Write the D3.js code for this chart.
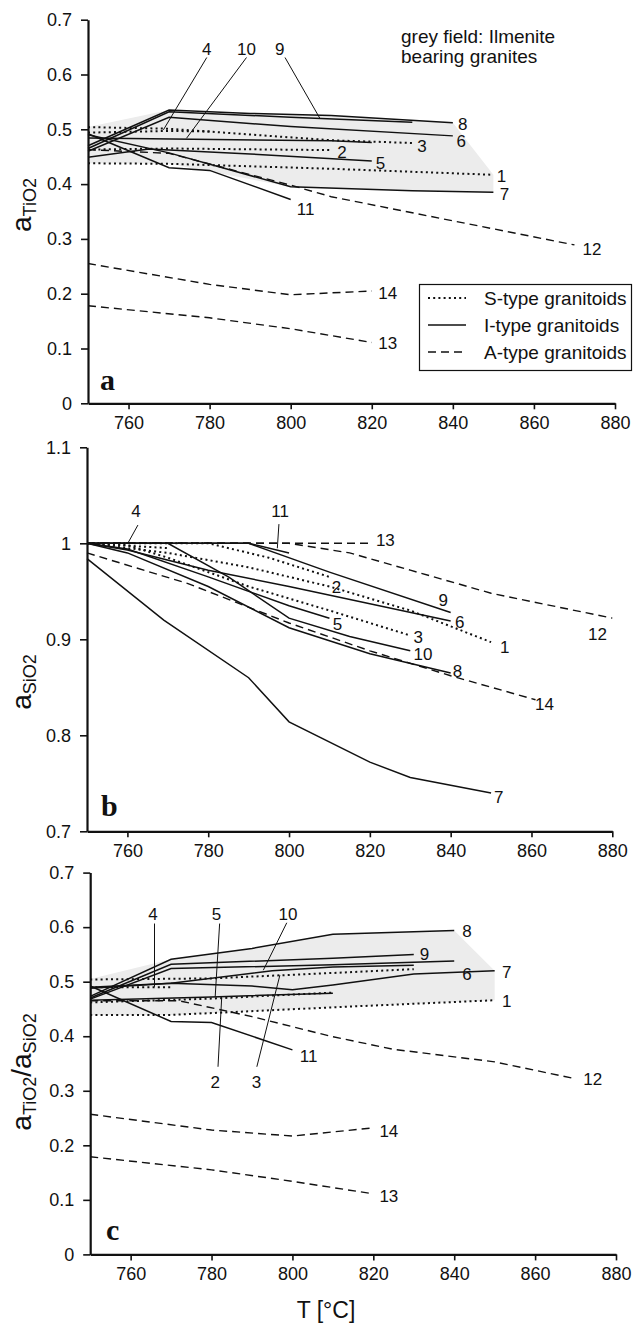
<!DOCTYPE html>
<html>
<head>
<meta charset="utf-8">
<script src="https://cdn.jsdelivr.net/npm/d3@7/dist/d3.min.js"></script>
<style>
  body { margin: 0; background: #fff; }
  svg text { font-family: "Liberation Sans", Arial, sans-serif; fill: #111; }
</style>
</head>
<body>
<svg id="chart" width="644" height="1326"></svg>
<script>
// temperature ticks shared by all three panels
const tempTicks = [760, 780, 800, 820, 840, 860, 880];

// ---- panel a : aTiO2 ----
const tio2Lines = [
  { id: "1", type: "S", pts: [[750, 0.438], [770, 0.437], [810, 0.428], [850, 0.417]] },
  { id: "2", type: "S", pts: [[750, 0.463], [770, 0.465], [810, 0.462]] },
  { id: "3", type: "S", pts: [[750, 0.504], [770, 0.501], [810, 0.48], [830, 0.475]] },
  { id: "4", type: "S", pts: [[750, 0.494], [770, 0.497], [780, 0.496]] },
  { id: "5", type: "I", pts: [[750, 0.449], [765, 0.464], [790, 0.455], [820, 0.442]] },
  { id: "6", type: "I", pts: [[750, 0.46], [770, 0.522], [800, 0.505], [840, 0.488]] },
  { id: "7", type: "I", pts: [[750, 0.49], [770, 0.457], [800, 0.395], [830, 0.388], [850, 0.385]] },
  { id: "8", type: "I", pts: [[750, 0.47], [770, 0.535], [790, 0.529], [810, 0.525], [840, 0.512]] },
  { id: "9", type: "I", pts: [[750, 0.465], [770, 0.532], [800, 0.522], [830, 0.513]] },
  { id: "10", type: "I", pts: [[750, 0.484], [810, 0.479], [820, 0.476]] },
  { id: "11", type: "I", pts: [[750, 0.492], [770, 0.43], [780, 0.425], [800, 0.372]] },
  { id: "12", type: "A", pts: [[750, 0.463], [770, 0.456], [800, 0.398], [810, 0.377], [840, 0.333], [870, 0.289]] },
  { id: "13", type: "A", pts: [[750, 0.178], [780, 0.156], [800, 0.136], [820, 0.111]] },
  { id: "14", type: "A", pts: [[750, 0.255], [780, 0.217], [800, 0.198], [820, 0.205]] }
];
const tio2Field = [[750, 0.504], [770, 0.535], [790, 0.529], [810, 0.525], [840, 0.512], [850, 0.417],
  [850, 0.385], [830, 0.388], [800, 0.395], [770, 0.437], [750, 0.438]];
const tio2Labels = [
  ["4", 779.3, 0.636, "middle"], ["10", 789.1, 0.636, "middle"], ["9", 797.3, 0.636, "middle"],
  ["8", 841.3, 0.4987, "start"], ["6", 840.9, 0.468, "start"], ["3", 831.2, 0.4591, "start"],
  ["2", 811.5, 0.447, "start"], ["5", 821, 0.4277, "start"], ["1", 850.8, 0.4044, "start"],
  ["7", 851.6, 0.371, "start"], ["11", 801.5, 0.3436, "start"], ["12", 872, 0.2706, "start"],
  ["14", 821.6, 0.1898, "start"], ["13", 821.6, 0.0991, "start"]
];
const tio2Leaders = [[779.3, 0.631, 768.6, 0.499], [789.1, 0.631, 774.3, 0.4836], [798.6, 0.631, 807.2, 0.52]];

// ---- panel b : aSiO2 ----
const sio2Lines = [
  { id: "1", type: "S", pts: [[750, 1], [770, 0.99], [790, 0.975], [810, 0.955], [830, 0.93], [850, 0.897]] },
  { id: "2", type: "S", pts: [[750, 1], [780, 1], [795, 0.985], [810, 0.965]] },
  { id: "3", type: "S", pts: [[750, 1], [760, 0.998], [770, 0.985], [790, 0.955], [810, 0.93], [830, 0.904]] },
  { id: "4", type: "S", pts: [[750, 1], [770, 0.995]] },
  { id: "5", type: "I", pts: [[750, 1], [760, 0.994], [780, 0.965], [800, 0.935], [810, 0.922]] },
  { id: "6", type: "I", pts: [[750, 1], [760, 0.993], [780, 0.972], [800, 0.955], [820, 0.937], [840, 0.919]] },
  { id: "7", type: "I", pts: [[750, 0.984], [769, 0.92], [790, 0.86], [800, 0.814], [820, 0.772], [830, 0.756], [850, 0.74]] },
  { id: "8", type: "I", pts: [[750, 1], [760, 0.99], [780, 0.955], [800, 0.912], [820, 0.885], [840, 0.865]] },
  { id: "9", type: "I", pts: [[750, 1], [790, 1], [810, 0.97], [840, 0.928]] },
  { id: "10", type: "I", pts: [[750, 1], [770, 1], [785, 0.965], [800, 0.922], [815, 0.903], [830, 0.888]] },
  { id: "11", type: "I", pts: [[750, 1], [790, 1], [800, 0.99]] },
  { id: "12", type: "A", pts: [[750, 1], [800, 1], [815, 0.99], [830, 0.972], [850, 0.948], [880, 0.922]] },
  { id: "13", type: "A", pts: [[750, 1], [820, 1]] },
  { id: "14", type: "A", pts: [[750, 0.99], [775, 0.958], [800, 0.917], [820, 0.888], [840, 0.862], [861, 0.837]] }
];
const sio2Labels = [
  ["4", 762.1, 1.0274, "middle"], ["11", 797.8, 1.0274, "middle"], ["13", 821.5, 0.997, "start"],
  ["2", 810.6, 0.948, "start"], ["9", 837, 0.9347, "start"], ["6", 841.1, 0.9115, "start"],
  ["5", 810.8, 0.9097, "start"], ["3", 830.8, 0.8958, "start"], ["1", 852.2, 0.8854, "start"],
  ["10", 830.8, 0.8784, "start"], ["8", 840.5, 0.861, "start"], ["14", 860.9, 0.8264, "start"],
  ["7", 850.7, 0.729, "start"], ["12", 874, 0.899, "start"]
];
const sio2Leaders = [[762.6, 1.019, 760.1, 1.0], [797.5, 1.02, 797.1, 0.9948]];

// ---- panel c : aTiO2/aSiO2 ----
const ratioLines = [
  { id: "1", type: "S", pts: [[750, 0.439], [770, 0.439], [810, 0.453], [850, 0.466]] },
  { id: "2", type: "S", pts: [[750, 0.462], [780, 0.469], [810, 0.48]] },
  { id: "3", type: "S", pts: [[750, 0.504], [780, 0.506], [810, 0.516], [830, 0.523]] },
  { id: "4", type: "S", pts: [[750, 0.49], [770, 0.49]] },
  { id: "5", type: "I", pts: [[750, 0.466], [780, 0.472], [810, 0.479]] },
  { id: "6", type: "I", pts: [[750, 0.468], [770, 0.524], [810, 0.531], [840, 0.538]] },
  { id: "7", type: "I", pts: [[750, 0.49], [770, 0.497], [790, 0.492], [800, 0.485], [810, 0.494], [830, 0.514], [850, 0.52]] },
  { id: "8", type: "I", pts: [[750, 0.473], [770, 0.541], [790, 0.561], [810, 0.587], [840, 0.594]] },
  { id: "9", type: "I", pts: [[750, 0.47], [770, 0.532], [810, 0.543], [830, 0.55]] },
  { id: "10", type: "I", pts: [[750, 0.488], [770, 0.497], [795, 0.52], [810, 0.527], [830, 0.53]] },
  { id: "11", type: "I", pts: [[750, 0.492], [770, 0.427], [780, 0.425], [800, 0.375]] },
  { id: "12", type: "A", pts: [[750, 0.465], [772, 0.465], [790, 0.436], [810, 0.399], [825, 0.376], [850, 0.353], [870, 0.322]] },
  { id: "13", type: "A", pts: [[750, 0.179], [780, 0.155], [800, 0.134], [820, 0.111]] },
  { id: "14", type: "A", pts: [[750, 0.257], [780, 0.228], [800, 0.217], [820, 0.232]] }
];
const ratioField = [[750, 0.505], [770, 0.541], [790, 0.561], [810, 0.587], [840, 0.594], [850, 0.52],
  [850, 0.466], [810, 0.453], [770, 0.439], [750, 0.439]];
const ratioLabels = [
  ["4", 765.5, 0.613, "middle"], ["5", 781.2, 0.613, "middle"], ["10", 798.9, 0.613, "middle"],
  ["2", 780.9, 0.305, "middle"], ["3", 791.1, 0.305, "middle"], ["8", 842, 0.582, "start"],
  ["9", 831.5, 0.54, "start"], ["6", 842, 0.5029, "start"], ["7", 851.8, 0.506, "start"],
  ["1", 851.8, 0.4539, "start"], ["11", 801.8, 0.3527, "start"], ["12", 871.9, 0.3105, "start"],
  ["14", 821.5, 0.215, "start"], ["13", 821.5, 0.0966, "start"]
];
const ratioLeaders = [[765.9, 0.6066, 765.9, 0.4906], [782, 0.6066, 780.9, 0.4723], [798.6, 0.608, 792.8, 0.521],
  [781.6, 0.344, 782.5, 0.4695], [791.2, 0.344, 796.9, 0.512]];

const legendItems = [["S", "S-type granitoids"], ["I", "I-type granitoids"], ["A", "A-type granitoids"]];

const lineStyle = {
  S: { dash: "2,3.2", width: 2 },
  I: { dash: null, width: 1.5 },
  A: { dash: "8,5", width: 1.4 }
};

const svg = d3.select("#chart");

function styleLine(sel, type) {
  sel.attr("fill", "none")
    .attr("stroke", "#111")
    .attr("stroke-width", lineStyle[type].width)
    .attr("stroke-dasharray", lineStyle[type].dash);
}

function drawPanel(p) {
  const x = d3.scaleLinear().domain([750, 880]).range([p.x0, p.x1]);
  const y = d3.scaleLinear().domain(p.yDomain).range([p.yBottom, p.yTop]);
  const g = svg.append("g");
  const line = d3.line().x(d => x(d[0])).y(d => y(d[1]));

  if (p.field) {
    g.append("path")
      .attr("d", line(p.field) + "Z")
      .attr("fill", "#ececec")
      .attr("stroke", "none");
  }

  p.lines.forEach(l => {
    g.append("path").attr("d", line(l.pts)).call(styleLine, l.type);
  });

  g.selectAll(".leader")
    .data(p.leaders)
    .join("line")
    .attr("x1", d => x(d[0])).attr("y1", d => y(d[1]))
    .attr("x2", d => x(d[2])).attr("y2", d => y(d[3]))
    .attr("stroke", "#111")
    .attr("stroke-width", 1);

  g.selectAll(".lbl")
    .data(p.labels)
    .join("text")
    .attr("x", d => x(d[1]))
    .attr("y", d => y(d[2]))
    .attr("text-anchor", d => d[3])
    .attr("font-size", 17)
    .text(d => d[0]);

  // axes
  const xAxis = g.append("g")
    .attr("transform", `translate(0,${p.yBottom})`)
    .call(d3.axisBottom(x).tickValues(tempTicks).tickSize(6).tickSizeOuter(0).tickPadding(7));
  const yAxis = g.append("g")
    .attr("transform", `translate(${p.x0},0)`)
    .call(d3.axisLeft(y).tickValues(p.yTicks).tickSize(7).tickSizeOuter(0).tickPadding(9)
      .tickFormat(d => String(+d.toFixed(1))));

  [xAxis, yAxis].forEach(ax => {
    ax.attr("font-family", null).attr("font-size", null);
    ax.select(".domain").attr("stroke", "#111").attr("stroke-width", 2.2);
    ax.selectAll(".tick line").attr("stroke", "#111").attr("stroke-width", 1.6);
    ax.selectAll(".tick text").attr("font-size", 18).attr("fill", "#111");
  });

  // panel letter
  g.append("text")
    .attr("x", p.letterX).attr("y", p.letterY)
    .style("font-family", "'Liberation Serif', 'Times New Roman', serif")
    .attr("font-weight", "bold")
    .attr("font-size", 30)
    .text(p.letter);

  // y title
  const t = g.append("text")
    .attr("transform", `translate(${p.titleX},${p.titleY}) rotate(-90)`)
    .attr("text-anchor", "middle")
    .attr("font-size", 28);
  p.title.forEach(part => {
    t.append("tspan")
      .attr("font-size", part.sub ? 18 : 28)
      .attr("dy", part.dy)
      .text(part.t);
  });

  return { g, x, y };
}

const panelA = drawPanel({
  x0: 88, x1: 615, yTop: 19.7, yBottom: 403.3, yDomain: [0, 0.7],
  yTicks: [0, 0.1, 0.2, 0.3, 0.4, 0.5, 0.6, 0.7],
  lines: tio2Lines, field: tio2Field, labels: tio2Labels, leaders: tio2Leaders,
  letter: "a", letterX: 100, letterY: 390,
  titleX: 31, titleY: 205,
  title: [{ t: "a", dy: 0 }, { t: "TiO2", sub: true, dy: 5 }]
});

drawPanel({
  x0: 87, x1: 612.3, yTop: 447.3, yBottom: 831.3, yDomain: [0.7, 1.1],
  yTicks: [0.7, 0.8, 0.9, 1, 1.1],
  lines: sio2Lines, field: null, labels: sio2Labels, leaders: sio2Leaders,
  letter: "b", letterX: 101, letterY: 816,
  titleX: 31, titleY: 682,
  title: [{ t: "a", dy: 0 }, { t: "SiO2", sub: true, dy: 5 }]
});

drawPanel({
  x0: 90.2, x1: 616, yTop: 872.6, yBottom: 1254.4, yDomain: [0, 0.7],
  yTicks: [0, 0.1, 0.2, 0.3, 0.4, 0.5, 0.6, 0.7],
  lines: ratioLines, field: ratioField, labels: ratioLabels, leaders: ratioLeaders,
  letter: "c", letterX: 106, letterY: 1240,
  titleX: 31, titleY: 1072,
  title: [{ t: "a", dy: 0 }, { t: "TiO2", sub: true, dy: 5 }, { t: "/a", dy: -5 }, { t: "SiO2", sub: true, dy: 5 }]
});

// legend + note in panel a
const leg = panelA.g.append("g");
leg.append("rect")
  .attr("x", 419.5).attr("y", 284.5).attr("width", 212).attr("height", 86)
  .attr("fill", "#fff").attr("stroke", "#111").attr("stroke-width", 1.2);
legendItems.forEach((d, i) => {
  const yy = 298 + i * 27;
  leg.append("line")
    .attr("x1", 428).attr("x2", 466).attr("y1", yy).attr("y2", yy)
    .call(styleLine, d[0]);
  leg.append("text")
    .attr("x", 484).attr("y", yy).attr("dy", "0.35em")
    .attr("font-size", 19)
    .text(d[1]);
});

panelA.g.append("text").attr("x", 401).attr("y", 43).attr("font-size", 19).text("grey field: Ilmenite");
panelA.g.append("text").attr("x", 401).attr("y", 63).attr("font-size", 19).text("bearing granites");

// x title
svg.append("text")
  .attr("x", 326).attr("y", 1318)
  .attr("text-anchor", "middle")
  .attr("font-size", 23)
  .text("T [°C]");
</script>
</body>
</html>
